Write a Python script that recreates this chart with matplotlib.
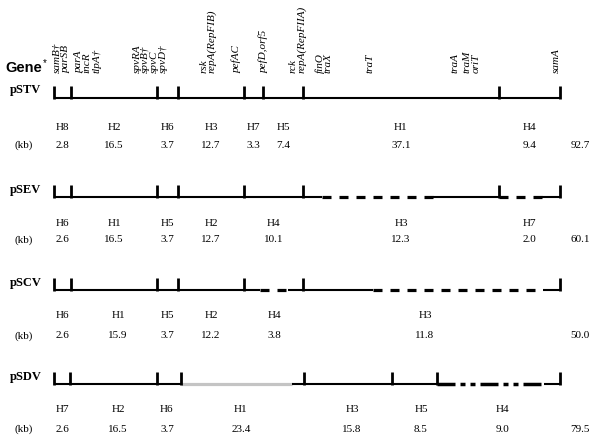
import matplotlib
matplotlib.use("Agg")
import matplotlib.pyplot as plt

# ==========================================
# DATA
# ==========================================
GENE_NAMES = ["samB†", "parSB", "parA", "incR", "tlpA†",
              "spvRA", "spvB†", "spvC", "spvD†",
              "rsk", "repA(RepFIB)", "pefAC", "pefD,orf5",
              "rck", "repA(RepFIIA)", "finO", "traX", "traT",
              "traA", "traM", "oriT", "samA"]

PLASMIDS = ["pSTV", "pSEV", "pSCV", "pSDV"]

FRAGMENTS = [
    ["H8", "H2", "H6", "H3", "H7", "H5", "H1", "H4"],
    ["H6", "H1", "H5", "H2", "H4", "H3", "H7"],
    ["H6", "H1", "H5", "H2", "H4", "H3"],
    ["H7", "H2", "H6", "H1", "H3", "H5", "H4"],
]
FRAG_KB = [
    ["2.8", "16.5", "3.7", "12.7", "3.3", "7.4", "37.1", "9.4"],
    ["2.6", "16.5", "3.7", "12.7", "10.1", "12.3", "2.0"],
    ["2.6", "15.9", "3.7", "12.2", "3.8", "11.8"],
    ["2.6", "16.5", "3.7", "23.4", "15.8", "8.5", "9.0"],
]
TOTAL_KB = ["92.7", "60.1", "50.0", "79.5"]

# ==========================================
# LAYOUT (pixel coordinates of the schematic)
# ==========================================
GENE_X = [57, 66, 79, 87, 97, 137, 145, 154, 163, 204, 212, 237, 264,
          293, 302, 320, 328, 370, 455, 467, 476, 556]
GENE_BASE_Y = 73

SITES = [
    [54, 71, 157, 178, 244, 263, 303, 499, 560],
    [54, 71, 157, 178, 244, 303, 499, 560],
    [54, 71, 157, 178, 244, 303, 560],
    [54, 70, 157, 181, 304, 392, 437, 560],
]
LABEL_X = [
    None, None, [62, 118, 167, 211, 274, 425],
    [62, 118, 167, 241, 352, 421, 502],
]
BASE_Y = [98, 197, 290, 384]
H_Y = [128, 223, 316, 410]
KB_Y = [145, 240, 336, 429]
NAME_Y = [90, 190, 283, 377]

# segments drawn along each map: (start, end, style)
SEGMENTS = [
    [(54, 560, "solid")],
    [(54, 322, "solid"), (322, 433, "dash"), (433, 499, "solid"),
     (499, 542, "dash"), (542, 560, "solid")],
    [(54, 260, "solid"), (260, 288, "dash"), (288, 373, "solid"),
     (373, 543, "dash"), (543, 560, "solid")],
    [(54, 181, "solid"), (181, 292, "gray"), (292, 437, "solid"),
     (437, 544, "dashdot"), (544, 560, "solid")],
]

plt.rcParams["lines.scale_dashes"] = False
SERIF = "Liberation Serif"
PX = 0.72  # points per pixel at dpi 100

fig = plt.figure(figsize=(6.03, 4.42), dpi=100)
ax = fig.add_axes([0, 0, 1, 1])
ax.set_xlim(0, 603)
ax.set_ylim(442, 0)
ax.axis("off")

# gene header
ax.text(5, GENE_BASE_Y - 1, "Gene", family="Liberation Sans", fontweight="bold",
        fontsize=10.5, ha="left", va="baseline")
ax.text(43, GENE_BASE_Y - 7, "*", family="Liberation Sans", fontsize=7,
        ha="left", va="baseline")
for name, gx in zip(GENE_NAMES, GENE_X):
    ax.text(gx, GENE_BASE_Y, name, family=SERIF, style="italic", fontsize=8,
            rotation=90, ha="center", va="bottom")

for i, plasmid in enumerate(PLASMIDS):
    y = BASE_Y[i]
    sites = SITES[i]
    ax.text(10, NAME_Y[i], plasmid, family=SERIF, fontweight="bold",
            fontsize=9, ha="left", va="center")

    for x0, x1, style in SEGMENTS[i]:
        if style == "solid":
            ax.plot([x0, x1], [y, y], color="black", lw=1.5,
                    solid_capstyle="butt")
        elif style == "dash":
            ax.plot([x0, x1], [y, y], color="black", lw=2.3,
                    dashes=(9 * PX, 8 * PX), solid_capstyle="butt",
                    dash_capstyle="butt")
        elif style == "gray":
            ax.plot([x0, x1], [y, y], color="#c4c4c4", lw=2.3,
                    solid_capstyle="butt")
        elif style == "dashdot":
            ax.plot([x0, x1], [y, y], color="black", lw=2.5,
                    dashes=(18 * PX, 5 * PX, 5 * PX, 5 * PX, 5 * PX, 5 * PX),
                    dash_capstyle="butt")

    for sx in sites:
        ax.plot([sx, sx], [y + 1, y - 12], color="black", lw=2.0,
                solid_capstyle="butt")

    if LABEL_X[i] is None:
        centers = [(a + b) / 2 for a, b in zip(sites[:-1], sites[1:])]
    else:
        centers = LABEL_X[i]
    for cx, frag, kb in zip(centers, FRAGMENTS[i], FRAG_KB[i]):
        ax.text(cx, H_Y[i], frag, family=SERIF, fontsize=8,
                ha="center", va="center")
        ax.text(cx, KB_Y[i], kb, family=SERIF, fontsize=8,
                ha="center", va="center")
    ax.text(24, KB_Y[i], "(kb)", family=SERIF, fontsize=8,
            ha="center", va="center")
    ax.text(580, KB_Y[i], TOTAL_KB[i], family=SERIF, fontsize=8,
            ha="center", va="center")

fig.savefig("out.png", dpi=100)
